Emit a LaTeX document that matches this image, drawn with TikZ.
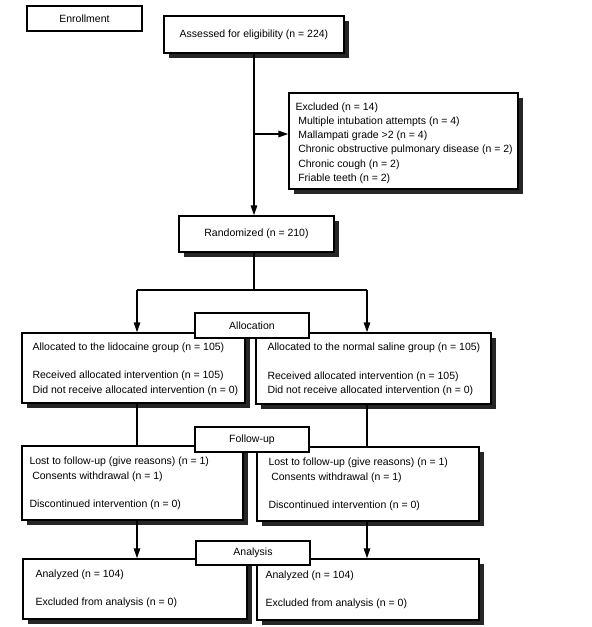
\documentclass[tikz,border=0pt]{standalone}
\usepackage{fontspec}
\setmainfont{Liberation Sans}
\usetikzlibrary{arrows.meta,shadows}
\begin{document}
\begin{tikzpicture}[x=1pt,y=1pt,
  font=\fontsize{10.5}{14.2}\selectfont,
  box/.style={draw=black,line width=1.4pt,fill=white,inner sep=0pt,
    drop shadow={shadow xshift=4.5pt,shadow yshift=-4.5pt,fill=black!85,opacity=1}},
  plain/.style={draw=black,line width=1.4pt,fill=white,inner sep=0pt},
  txt/.style={inner sep=0pt,align=left,anchor=west},
  conn/.style={line width=1.5pt},
  arr/.style={line width=1.5pt,-{Triangle[length=10pt,width=6.5pt]}}]
\useasboundingbox (0,0) rectangle (592,-627);

% boxes
\node[plain,minimum width=115pt,minimum height=25pt] (enroll) at (84.5,-18.5) {Enrollment};
\node[box,minimum width=180pt,minimum height=37pt] (assess) at (254,-34.5) {Assessed for eligibility (n = 224)};
\node[box,minimum width=229pt,minimum height=96pt] (excl) at (403.5,-141) {};
\node[box,minimum width=155pt,minimum height=36pt] (rand) at (256.5,-234) {Randomized (n = 210)};

\node[box,minimum width=223pt,minimum height=70pt] (allocL) at (133.5,-368) {};
\node[box,minimum width=235pt,minimum height=71pt] (allocR) at (373.5,-368.5) {};
\node[box,minimum width=221pt,minimum height=74pt] (fupL) at (132.5,-483) {};
\node[box,minimum width=222pt,minimum height=74pt] (fupR) at (368,-484) {};
\node[box,minimum width=224pt,minimum height=60pt] (anaL) at (135,-589) {};
\node[box,minimum width=222pt,minimum height=61pt] (anaR) at (368,-589.5) {};

% label boxes
\node[plain,minimum width=114pt,minimum height=25pt] (allocLab) at (252,-325.5) {Allocation};
\node[plain,minimum width=114pt,minimum height=25pt] (fupLab) at (252,-439.5) {Follow-up};
\node[plain,minimum width=114pt,minimum height=24pt] (anaLab) at (253,-553) {Analysis};

% texts
\node[txt] (exclT) at ([xshift=7pt,yshift=-2pt]excl.west) {Excluded (n = 14)\\
\hspace{2.8pt}Multiple intubation attempts (n = 4)\\
\hspace{2.8pt}Mallampati grade >2 (n = 4)\\
\hspace{2.8pt}Chronic obstructive pulmonary disease (n = 2)\\
\hspace{2.8pt}Chronic cough (n = 2)\\
\hspace{2.8pt}Friable teeth (n = 2)};
\node[txt] (allocLT) at ([xshift=11pt,yshift=-1pt]allocL.west) {Allocated to the lidocaine group (n = 105)\\[14.2pt]
Received allocated intervention (n = 105)\\
Did not receive allocated intervention (n = 0)};
\node[txt] (allocRT) at ([xshift=12pt,yshift=-1pt]allocR.west) {Allocated to the normal saline group (n = 105)\\[14.2pt]
Received allocated intervention (n = 105)\\
Did not receive allocated intervention (n = 0)};
\node[txt] (fupLT) at ([xshift=8pt,yshift=-0.5pt]fupL.west) {Lost to follow-up (give reasons) (n = 1)\\
\hspace{2.8pt}Consents withdrawal (n = 1)\\[14.2pt]
Discontinued intervention (n = 0)};
\node[txt] (fupRT) at ([xshift=12pt,yshift=-0.5pt]fupR.west) {Lost to follow-up (give reasons) (n = 1)\\
\hspace{2.8pt}Consents withdrawal (n = 1)\\[14.2pt]
Discontinued intervention (n = 0)};
\node[txt] (anaLT) at ([xshift=13pt]anaL.west) {Analyzed (n = 104)\\[14.2pt]
Excluded from analysis (n = 0)};
\node[txt] (anaRT) at ([xshift=9pt]anaR.west) {Analyzed (n = 104)\\[14.2pt]
Excluded from analysis (n = 0)};

% connectors
\coordinate (branch) at (254,-134);
\coordinate (split) at (254,-290);
\coordinate (lx) at (137,-290);
\coordinate (rx) at (367,-290);
\draw[arr] (assess.south) -- (assess.south |- rand.north);
\draw[arr] (branch) -- (branch -| excl.west);
\draw[conn] (split |- rand.south) -- (split);
\draw[conn] (lx) -- (rx);
\draw[arr] (lx) -- (lx |- allocL.north);
\draw[arr] (rx) -- (rx |- allocR.north);
\draw[conn] (lx |- allocL.south) -- (lx |- fupL.north);
\draw[conn] (rx |- allocR.south) -- (rx |- fupR.north);
\draw[arr] (lx |- fupL.south) -- (lx |- anaL.north);
\draw[arr] (rx |- fupR.south) -- (rx |- anaR.north);
\end{tikzpicture}
\end{document}
